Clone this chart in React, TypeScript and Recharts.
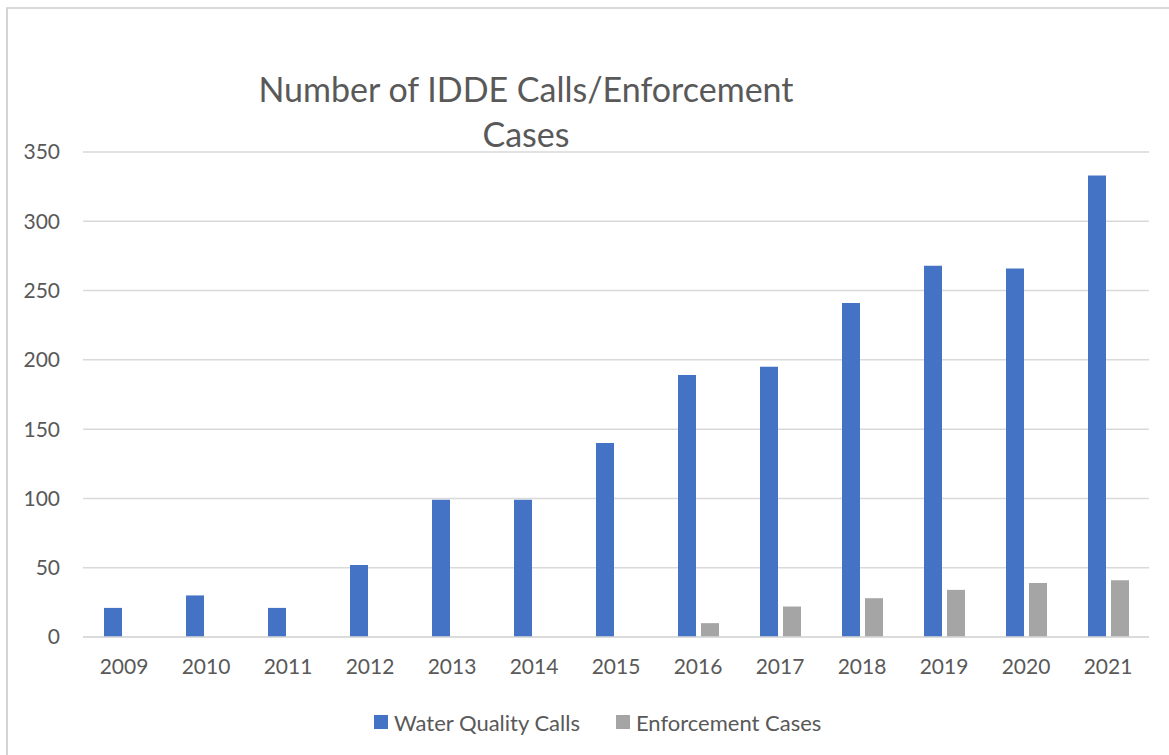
import React from 'react';
import { BarChart, Bar, XAxis, YAxis, CartesianGrid, Legend } from 'recharts';

const years = ['2009', '2010', '2011', '2012', '2013', '2014', '2015', '2016', '2017', '2018', '2019', '2020', '2021'];
const waterQualityCalls = [21, 30, 21, 52, 99, 99, 140, 189, 195, 241, 268, 266, 333];
const enforcementCases = [null, null, null, null, null, null, null, 10, 22, 28, 34, 39, 41];
const yTicks = [0, 50, 100, 150, 200, 250, 300, 350];

const seriesNames = ['Water Quality Calls', 'Enforcement Cases'];
const seriesColors = ['#4472C4', '#A5A5A5'];

const data = years.map((y, i) => ({
  year: y,
  wq: waterQualityCalls[i],
  enf: enforcementCases[i],
}));

const FONT = 'Lato, "Open Sans", sans-serif';
const TEXT = '#595959';

const renderLegend = () => (
  <div style={{ display: 'flex', alignItems: 'center', height: 30, paddingLeft: 366, fontFamily: FONT, fontSize: 22, color: TEXT }}>
    {seriesNames.map((n, i) => (
      <div key={n} style={{ display: 'flex', alignItems: 'center', marginRight: i === 0 ? 36 : 0 }}>
        <span style={{ display: 'inline-block', width: 14, height: 14, background: seriesColors[i], marginRight: 6 }} />
        <span>{n}</span>
      </div>
    ))}
  </div>
);

export default function App() {
  return (
    <div style={{ position: 'relative', width: 1169, height: 755, overflow: 'hidden', background: '#fff' }}>
      <style>{'html,body{margin:0;padding:0;overflow:hidden;}'}</style>
      <div style={{ position: 'absolute', left: 6, top: 7, width: 2, height: 748, background: '#d4d4d4', zIndex: 5 }} />
      <div style={{ position: 'absolute', left: 6, top: 7, width: 1163, height: 2, background: '#d9d9d9', zIndex: 5 }} />
      <div style={{ position: 'absolute', left: 176, width: 700, top: 66, textAlign: 'center', fontFamily: FONT, fontSize: 34, lineHeight: '45px', color: TEXT, zIndex: 4 }}>
        Number of IDDE Calls/Enforcement<br />Cases
      </div>
      <div style={{ position: 'absolute', left: 8, top: 8 }}>
        <BarChart
          width={1161}
          height={747}
          data={data}
          margin={{ top: 144, right: 20, bottom: 18, left: 0 }}
          barSize={18}
          barGap={5}
        >
          <CartesianGrid vertical={false} stroke="#d9d9d9" strokeWidth={1.5} />
          <XAxis
            dataKey="year"
            height={70}
            axisLine={{ stroke: '#d9d9d9', strokeWidth: 1.5 }}
            tickLine={false}
            tickSize={0}
            tickMargin={22}
            tick={{ fill: TEXT, fontSize: 21, fontFamily: FONT }}
            interval={0}
          />
          <YAxis
            width={75}
            domain={[0, 350]}
            ticks={yTicks}
            axisLine={false}
            tickLine={false}
            tickSize={0}
            tickMargin={23}
            tick={{ fill: TEXT, fontSize: 21, fontFamily: FONT }}
          />
          <Legend verticalAlign="bottom" content={renderLegend} wrapperStyle={{ left: 0, width: 1161 }} />
          <Bar dataKey="wq" name={seriesNames[0]} fill={seriesColors[0]} isAnimationActive={false} />
          <Bar dataKey="enf" name={seriesNames[1]} fill={seriesColors[1]} isAnimationActive={false} />
        </BarChart>
      </div>
    </div>
  );
}
